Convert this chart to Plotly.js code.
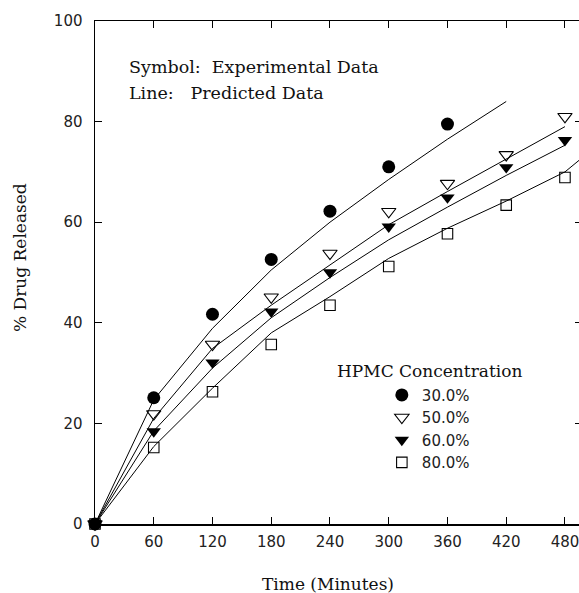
<!DOCTYPE html>
<html>
<head>
<meta charset="utf-8">
<script src="https://cdn.plot.ly/plotly-3.0.1.min.js"></script>
<style>
html,body{margin:0;padding:0;overflow:hidden;background:#fff;}
#chart{width:582px;height:593px;}
</style>
</head>
<body>
<div id="chart"></div>
<script>
// Time points (minutes)
const timeExp = [0, 60, 120, 180, 240, 300, 360, 420, 480];
const timeExp30 = [0, 60, 120, 180, 240, 300, 360];
const timePred30 = [0, 60, 120, 180, 240, 300, 360, 420];
const timePred = [0, 60, 120, 180, 240, 300, 360, 420, 480];
const timePred80 = [0, 60, 120, 180, 240, 300, 360, 420, 480, 495];

// Experimental data (% drug released)
const exp30 = [0, 25.1, 41.7, 52.6, 62.2, 71.0, 79.5];
const exp50 = [0, 21.9, 35.7, 45.1, 53.8, 62.1, 67.7, 73.4, 81.0];
const exp60 = [0, 18.4, 32.1, 42.2, 50.0, 59.1, 64.9, 70.9, 76.3];
const exp80 = [0, 15.2, 26.3, 35.7, 43.5, 51.2, 57.7, 63.4, 68.9];

// Predicted data (% drug released)
const pred30 = [0, 24.7, 38.9, 50.5, 60.0, 68.5, 76.5, 84.0];
const pred50 = [0, 21.0, 34.9, 43.5, 51.5, 59.5, 66.1, 72.6, 79.0];
const pred60 = [0, 18.5, 31.0, 41.0, 49.0, 56.5, 63.0, 69.3, 75.3];
const pred80 = [0, 15.4, 27.0, 38.0, 45.2, 52.8, 58.8, 64.2, 70.0, 72.4];

const seriesNames = ['30.0%', '50.0%', '60.0%', '80.0%'];
const xTicks = [0, 60, 120, 180, 240, 300, 360, 420, 480];
const yTicks = [0, 20, 40, 60, 80, 100];

const SERIF = '"DejaVu Serif", "Liberation Serif", serif';
const SANS = '"DejaVu Sans", "Liberation Sans", sans-serif';

const lineStyle = {color: '#000', width: 1};
function predTrace(x, y) {
  return {x: x, y: y, mode: 'lines', type: 'scatter', line: lineStyle,
          showlegend: false, hoverinfo: 'skip', cliponaxis: true};
}
const traces = [
  predTrace(timePred30, pred30),
  predTrace(timePred, pred50),
  predTrace(timePred, pred60),
  predTrace(timePred80, pred80),
  {x: timeExp30, y: exp30, name: seriesNames[0], mode: 'markers', type: 'scatter',
   marker: {symbol: 'circle', size: 13, color: '#000'}, cliponaxis: false},
  {x: timeExp, y: exp50, name: seriesNames[1], mode: 'markers', type: 'scatter',
   marker: {symbol: 'triangle-down-open', size: 12.5, color: '#000', line: {width: 1.1, color: '#000'}}, cliponaxis: false},
  {x: timeExp, y: exp60, name: seriesNames[2], mode: 'markers', type: 'scatter',
   marker: {symbol: 'triangle-down', size: 12.5, color: '#000'}, cliponaxis: false},
  {x: timeExp, y: exp80, name: seriesNames[3], mode: 'markers', type: 'scatter',
   marker: {symbol: 'square-open', size: 10.5, color: '#000', line: {width: 1.1, color: '#000'}}, cliponaxis: false}
];

const axisCommon = {
  showgrid: false, zeroline: false, showline: true, linecolor: '#000', linewidth: 1.5,
  mirror: 'ticks', ticks: 'inside', ticklen: 7, tickwidth: 1, tickcolor: '#000',
  tickfont: {family: SANS, size: 15, color: '#222'}
};

const layout = {
  width: 582, height: 593,
  margin: {l: 95, r: 0, t: 21, b: 69, pad: 0},
  paper_bgcolor: '#fff', plot_bgcolor: '#fff',
  showlegend: true,
  xaxis: Object.assign({}, axisCommon, {
    range: [0, 497.4], tickmode: 'array', tickvals: xTicks, ticktext: xTicks.map(String),
    ticklabelstandoff: 3
  }),
  yaxis: Object.assign({}, axisCommon, {
    range: [0, 100], tickmode: 'array', tickvals: yTicks, ticktext: yTicks.map(String),
    ticklabelstandoff: 8
  }),
  legend: {
    x: 0.589, y: 0.289, xanchor: 'left', yanchor: 'top',
    bgcolor: 'rgba(0,0,0,0)', borderwidth: 0,
    font: {family: SANS, size: 15, color: '#222'},
    itemwidth: 30, tracegroupgap: 0
  },
  annotations: [
    {text: 'Symbol:\u00A0 Experimental Data', xref: 'paper', yref: 'paper', x: 0.066, y: 0.909,
     xanchor: 'left', yanchor: 'middle', showarrow: false, font: {family: SERIF, size: 17.5, color: '#111'}},
    {text: 'Line:\u00A0\u00A0 Predicted Data', xref: 'paper', yref: 'paper', x: 0.066, y: 0.857,
     xanchor: 'left', yanchor: 'middle', showarrow: false, font: {family: SERIF, size: 17.5, color: '#111'}},
    {text: 'HPMC Concentration', xref: 'paper', yref: 'paper', x: (335 - 95) / 487, y: (524 - 370.7) / 503,
     xanchor: 'left', yanchor: 'middle', showarrow: false, font: {family: SERIF, size: 17, color: '#111'}},
    {text: 'Time (Minutes)', xref: 'paper', yref: 'paper', x: (328 - 95) / 487, y: (524 - 584) / 503,
     xanchor: 'center', yanchor: 'middle', showarrow: false, font: {family: SERIF, size: 17, color: '#111'}},
    {text: '% Drug Released', xref: 'paper', yref: 'paper', x: (20 - 95) / 487, y: (524 - 258) / 503,
     xanchor: 'center', yanchor: 'middle', textangle: -90, showarrow: false, font: {family: SERIF, size: 17, color: '#111'}}
  ]
};

Plotly.newPlot('chart', traces, layout, {displayModeBar: false, staticPlot: true});
</script>
</body>
</html>
